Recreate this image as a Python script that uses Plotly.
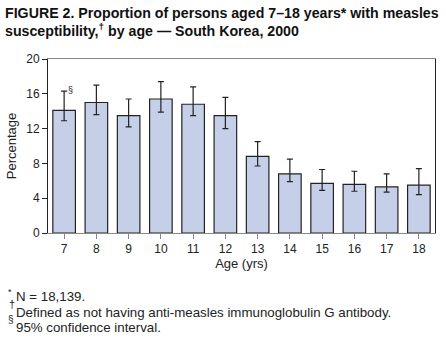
import plotly.graph_objects as go

ages = ["7", "8", "9", "10", "11", "12", "13", "14", "15", "16", "17", "18"]
pct = [14.1, 15.0, 13.5, 15.4, 14.8, 13.5, 8.8, 6.8, 5.7, 5.6, 5.3, 5.5]
ci_upper = [16.3, 17.0, 15.4, 17.4, 16.8, 15.6, 10.5, 8.5, 7.3, 7.1, 6.8, 7.4]
ci_lower = [12.9, 13.6, 12.2, 13.9, 13.5, 12.0, 7.7, 5.9, 4.9, 4.8, 4.7, 4.4]

err_plus = [u - v for u, v in zip(ci_upper, pct)]
err_minus = [v - l for v, l in zip(pct, ci_lower)]

W, H = 446, 339
L, R, T, B = 48, 11, 59, 106
PW, PH = W - L - R, H - T - B

def px(x):
    return (x - L) / PW

def py(y):
    return (H - B - y) / PH

FONT = "Liberation Sans, Arial, sans-serif"

fig = go.Figure()
fig.add_trace(go.Bar(
    x=ages, y=pct,
    marker=dict(color="#c5d0e8", line=dict(color="#222222", width=1.2)),
    error_y=dict(type="data", symmetric=False, array=err_plus, arrayminus=err_minus,
                 color="#222222", thickness=1.2, width=3),
    width=0.7,
))

fig.update_layout(
    width=W, height=H,
    margin=dict(l=L, r=R, t=T, b=B),
    paper_bgcolor="white", plot_bgcolor="white",
    showlegend=False,
    font=dict(family=FONT, size=12, color="#222222"),
    xaxis=dict(
        type="category", showline=True, linecolor="#888888", linewidth=1,
        mirror=True, ticks="outside", ticklen=5, tickcolor="#888888",
        tickfont=dict(size=12), title=dict(text="Age (yrs)", font=dict(size=13), standoff=3),
    ),
    yaxis=dict(
        range=[0, 20], tickvals=[0, 4, 8, 12, 16, 20], showgrid=False, zeroline=False,
        showline=True, linecolor="#222222", linewidth=1, mirror=True,
        ticks="outside", ticklen=5, tickcolor="#222222",
        tickfont=dict(size=12), title=dict(text="Percentage", font=dict(size=13), standoff=6),
    ),
    bargap=0.3,
)

annots = [
    dict(text="<b>FIGURE 2. Proportion of persons aged 7–18 years* with measles<br>susceptibility,<sup>†</sup> by age — South Korea, 2000</b>",
         x=px(3), y=py(3), xanchor="left", yanchor="top", align="left",
         font=dict(size=14.2, family=FONT, color="#111111")),
    dict(text="*", x=px(6), y=py(292), xanchor="left", yanchor="middle", font=dict(size=9)),
    dict(text="N = 18,139.", x=px(14), y=py(296), xanchor="left", yanchor="middle", font=dict(size=13.3)),
    dict(text="†", x=px(7), y=py(304), xanchor="left", yanchor="middle", font=dict(size=11)),
    dict(text="Defined as not having anti-measles immunoglobulin G antibody.", x=px(14), y=py(312),
         xanchor="left", yanchor="middle", font=dict(size=13.3)),
    dict(text="§", x=px(6), y=py(319), xanchor="left", yanchor="middle", font=dict(size=10)),
    dict(text="95% confidence interval.", x=px(14), y=py(327), xanchor="left", yanchor="middle",
         font=dict(size=13.3)),
]
for a in annots:
    a.update(xref="paper", yref="paper", showarrow=False, align="left")
    fig.add_annotation(**a)
fig.add_annotation(x=0, y=ci_upper[0], text="§", showarrow=False, xshift=2, yshift=1,
                   xanchor="left", yanchor="middle", font=dict(size=9))

fig.write_html("out.html")
